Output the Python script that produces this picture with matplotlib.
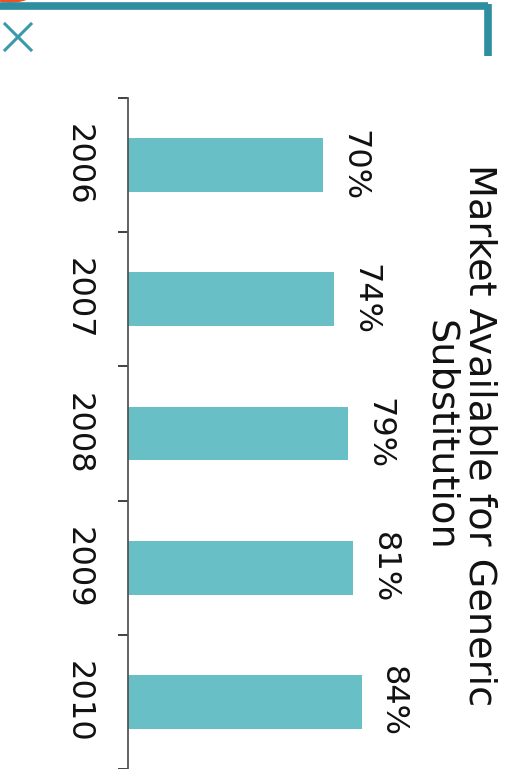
import matplotlib
matplotlib.use("Agg")
import matplotlib.pyplot as plt
from matplotlib.lines import Line2D
from matplotlib.patches import Ellipse

years = ["2006", "2007", "2008", "2009", "2010"]
values = [70, 74, 79, 81, 84]
value_labels = ["70%", "74%", "79%", "81%", "84%"]
title = "Market Available for Generic\nSubstitution"

W, H = 506, 769
fig = plt.figure(figsize=(W / 100, H / 100), dpi=100)
fig.patch.set_facecolor("white")

def fx(x):
    return x / W

def fy(y):
    return 1 - y / H

# axes: left edge x=128, top y=98, bottom y=769
ax_left, ax_top, ax_bottom = 128, 98, 769
ax_w = 2.78 * 100
ax = fig.add_axes([fx(ax_left), fy(ax_bottom), ax_w / W, (ax_bottom - ax_top) / H])
ax.set_xlim(0, 100)
ax.set_ylim(len(years) - 0.5, -0.5)

pos = list(range(len(years)))
ax.barh(pos, values, height=0.4, color="#68bfc6", zorder=2)

for s in ["top", "right", "bottom"]:
    ax.spines[s].set_visible(False)
ax.spines["left"].set_color("#555555")
ax.spines["left"].set_linewidth(1.3)
ax.set_xticks([])
ax.set_yticks([i - 0.5 for i in range(len(years) + 1)])
ax.set_yticklabels([])
ax.tick_params(axis="y", length=7, width=1.3, color="#333333", direction="out")
ax.set_facecolor("none")

for i, (v, lab) in enumerate(zip(values, value_labels)):
    ax.annotate(lab, (v, i), xytext=(31, 0), textcoords="offset pixels",
                rotation=-90, ha="center", va="center", fontsize=23, color="#111111")
    ax.annotate(years[i], (0, i), xytext=(-50, 0), textcoords="offset pixels",
                rotation=-90, ha="center", va="center", fontsize=23, color="#111111")

fig.text(fx(460), fy(435), title, rotation=-90, ha="center", va="center",
         multialignment="center", fontsize=27.5, color="#111111", linespacing=1.12)

teal = "#2e8ea0"
# top border line with right drop
fig.add_artist(Line2D([fx(0), fx(488)], [fy(6), fy(6)], color=teal, lw=5.5,
                      solid_capstyle="butt"))
fig.add_artist(Line2D([fx(488), fx(488)], [fy(3.5), fy(56)], color=teal, lw=5.5,
                      solid_capstyle="butt"))
# orange shape top-left
fig.add_artist(Ellipse((fx(10), fy(-12)), 56 / W, 28 / H, color="#f04e23",
                       transform=fig.transFigure, zorder=0))
# X mark
xc = "#3a9aaa"
fig.add_artist(Line2D([fx(5), fx(31)], [fy(24), fy(50)], color=xc, lw=2.2))
fig.add_artist(Line2D([fx(5), fx(31)], [fy(50), fy(24)], color=xc, lw=2.2))

fig.savefig("out.png", dpi=100, facecolor="white")
